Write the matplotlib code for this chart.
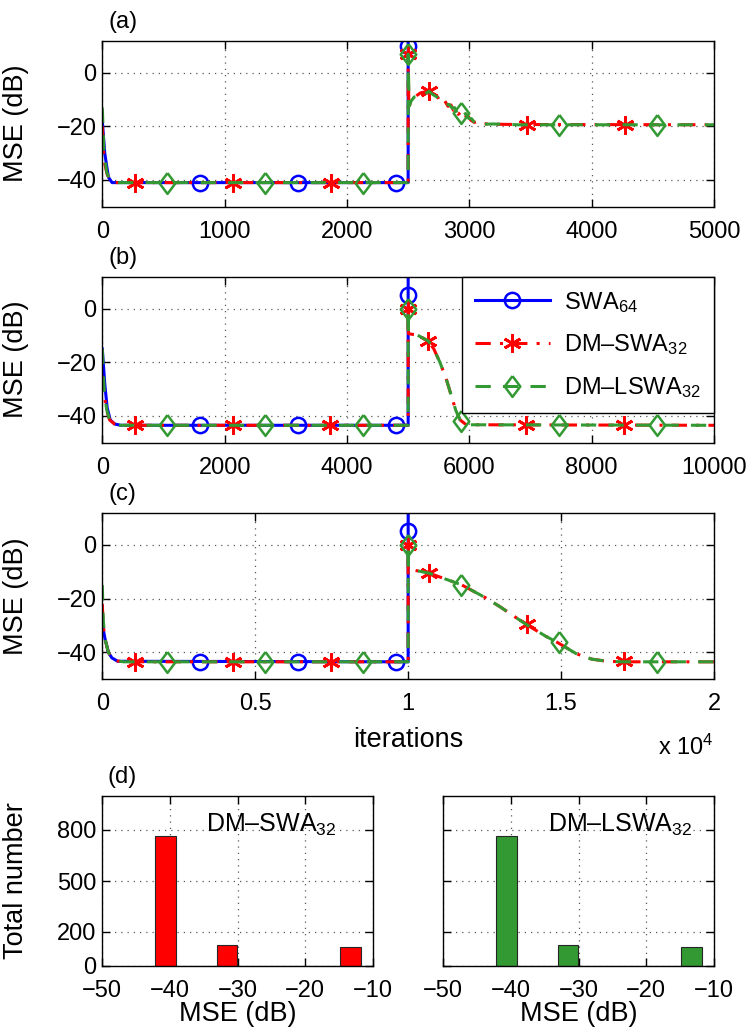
import numpy as np
import matplotlib
matplotlib.use('Agg')
import matplotlib.pyplot as plt
from matplotlib.lines import Line2D
from matplotlib.ticker import FuncFormatter

plt.rcParams['font.family'] = ['Liberation Sans', 'DejaVu Sans']
plt.rcParams['mathtext.fontset'] = 'custom'
plt.rcParams['mathtext.rm'] = 'Liberation Sans'
plt.rcParams['mathtext.it'] = 'Liberation Sans:italic'
plt.rcParams['axes.unicode_minus'] = True

# ---- panel (a): 5000 iterations ----
a_swa_x = [0, 20, 50, 80, 2500, 2500, 2502]
a_swa_y = [-18, -30, -39, -41, -41, 10, 60]
a_dm_x = [0, 15, 40, 70, 90, 2500, 2500, 2506, 2520, 2545, 2570, 2600, 2630, 2670, 2700,
          2730, 2755, 2780, 2800, 2825, 2850, 2870, 2890, 2910, 2935, 2960, 2985, 3010,
          3040, 3070, 3110, 3200, 3400, 5000]
a_dm_y = [-20, -33, -38, -40, -41, -41, 7, -13, -11, -9.5, -8.5, -7.5, -7.2, -6.8, -7.6,
          -9.5, -9, -11, -10.5, -12.5, -12, -14, -13.2, -15.5, -14.5, -16.8, -15.8, -17.6,
          -18.5, -18.2, -19, -19.2, -19.3, -19.4]
a_lswa_x = [0, 12, 35, 60, 85, 2500, 2500, 2508, 2525, 2550, 2575, 2605, 2640, 2670, 2705,
            2735, 2760, 2790, 2810, 2835, 2860, 2880, 2900, 2920, 2945, 2970, 2995, 3020,
            3045, 3080, 3120, 3200, 3400, 5000]
a_lswa_y = [-13, -28, -37, -40, -41, -41, 7, -12.5, -10.5, -9, -8.8, -7.2, -7.8, -6.9, -8.2,
            -9, -10.2, -10.5, -12, -11.8, -13.2, -13, -15, -14, -16, -15.2, -17, -17.2,
            -18.8, -18, -19.2, -19.1, -19.4, -19.4]
a_swa_mk_x = [800, 1600, 2400, 2500]
a_swa_mk_y = [-41, -41, -41, 10]
a_dm_mk_x = [270, 1070, 1870, 2500, 2670, 3470, 4270]
a_dm_mk_y = [-41, -41, -41, 7, -6.8, -19.3, -19.4]
a_lswa_mk_x = [530, 1330, 2130, 2500, 2930, 3730, 4530]
a_lswa_mk_y = [-41, -41, -41, 7, -15, -19.4, -19.4]

# ---- panel (b): 10000 iterations ----
b_swa_x = [0, 40, 80, 130, 200, 300, 5000, 5000, 5002]
b_swa_y = [-15, -28, -37, -41.5, -43, -43.5, -43.5, 5, 60]
b_dm_x = [0, 30, 70, 120, 200, 300, 5000, 5000, 5005, 5150, 5330, 5420, 5520, 5620, 5700,
          5780, 5850, 5950, 10000]
b_dm_y = [-25, -32, -38, -41.5, -43, -43.5, -43.5, 0, -9.3, -9.8, -12, -15, -20, -26, -32,
          -38, -41.5, -43.3, -43.5]
b_lswa_x = b_dm_x
b_lswa_y = [-15, -30, -37.5, -41.5, -43, -43.5, -43.5, 0, -9.3, -9.8, -12, -15, -20, -26,
            -32, -38, -41.5, -43.3, -43.5]
b_swa_mk_x = [1600, 3200, 4800, 5000]
b_swa_mk_y = [-43.5, -43.5, -43.5, 5]
b_dm_mk_x = [530, 2130, 3730, 5000, 5330, 6930, 8530]
b_dm_mk_y = [-43.5, -43.5, -43.5, 0, -12, -43.5, -43.5]
b_lswa_mk_x = [1060, 2660, 4260, 5000, 5860, 7460, 9060]
b_lswa_mk_y = [-43.5, -43.5, -43.5, 0, -42, -43.5, -43.5]

# ---- panel (c): 20000 iterations ----
c_swa_x = [0, 40, 90, 200, 310, 500, 10000, 10000, 10002]
c_swa_y = [-25, -32, -35, -40, -42, -43.3, -43.5, 5, 60]
c_dm_x = [0, 30, 90, 200, 310, 500, 700, 10000, 10000, 10010, 10700, 11750, 12500, 13000,
          13830, 14500, 14880, 15500, 16000, 16500, 17000, 20000]
c_dm_y = [-22, -30, -35, -40, -42, -43.2, -43.5, -43.5, 0, -9, -10.6, -14.9, -19.5, -23,
          -29.4, -34, -36.3, -40.5, -42.5, -43.3, -43.5, -43.5]
c_lswa_x = c_dm_x
c_lswa_y = [-15, -28, -35, -40, -42, -43.2, -43.5, -43.5, 0, -9, -10.6, -14.9, -19.5, -23,
            -29.4, -34, -36.3, -40.5, -42.5, -43.3, -43.5, -43.5]
c_swa_mk_x = [3200, 6400, 9600, 10000]
c_swa_mk_y = [-43.5, -43.5, -43.5, 5]
c_dm_mk_x = [1070, 4270, 7470, 10000, 10670, 13870, 17070]
c_dm_mk_y = [-43.5, -43.5, -43.5, 0, -10.6, -29.4, -43.3]
c_lswa_mk_x = [2130, 5330, 8530, 10000, 11730, 14930, 18130]
c_lswa_mk_y = [-43.5, -43.5, -43.5, 0, -14.9, -36.3, -43.5]

# ---- panel (d): histograms ----
hist_centers = [-40.68, -37.64, -34.60, -31.56, -28.52, -25.48, -22.44, -19.40, -16.36, -13.32]
hist_width = 3.04
counts_dm = [766, 1, 0, 122, 0, 0, 1, 0, 0, 110]
counts_lswa = [766, 1, 0, 122, 0, 1, 0, 0, 0, 110]

BLUE = (0, 0, 1)
RED = (1, 0, 0)
GREEN = (0.2, 0.6, 0.2)
ASTER = (6, 2, 0)
DIAM = [(0, 1), (0.75, 0), (0, -1), (-0.75, 0), (0, 1)]

TICK_FS = 17
LABEL_FS = 19.5

styles = {
    'swa': dict(color=BLUE, ls='-', marker='o', ms=11, mew=1.8),
    'dm': dict(color=RED, ls=(0, (5, 3, 1, 3)), marker=ASTER, ms=13, mew=2),
    'lswa': dict(color=GREEN, ls=(0, (5, 4)), marker=DIAM, ms=15, mew=1.8),
}


def style_axes(ax):
    ax.tick_params(direction='in', length=6, width=1, top=True, right=True,
                   labelsize=TICK_FS)
    ax.tick_params(axis='x', pad=10)
    ax.tick_params(axis='y', pad=4)
    ax.grid(True, ls=(0, (1, 4)), lw=0.9, color='0.35')
    ax.set_axisbelow(True)
    for s in ax.spines.values():
        s.set_linewidth(1.0)


def draw_curves(ax, series):
    for key, x, y, mx, my in series:
        st = styles[key]
        ax.plot(x, y, color=st['color'], ls=st['ls'], lw=2.2)
        ax.plot(mx, my, ls='none', marker=st['marker'], ms=st['ms'], mew=st['mew'],
                mec=st['color'], mfc='none')


fig = plt.figure(figsize=(7.52, 10.30), dpi=100)
W, H = 752.0, 1030.0


def px_axes(x0, x1, y0, y1):
    return fig.add_axes([x0 / W, 1 - y1 / H, (x1 - x0) / W, (y1 - y0) / H])


ax_a = px_axes(102.3, 714, 40.7, 206.7)
ax_b = px_axes(102.3, 714, 276.7, 442.7)
ax_c = px_axes(102.3, 714, 512.5, 679.3)
ax_d1 = px_axes(102.3, 372.7, 796, 966)
ax_d2 = px_axes(443.3, 714, 796, 966)

draw_curves(ax_a, [('swa', a_swa_x, a_swa_y, a_swa_mk_x, a_swa_mk_y),
                   ('dm', a_dm_x, a_dm_y, a_dm_mk_x, a_dm_mk_y),
                   ('lswa', a_lswa_x, a_lswa_y, a_lswa_mk_x, a_lswa_mk_y)])
draw_curves(ax_b, [('swa', b_swa_x, b_swa_y, b_swa_mk_x, b_swa_mk_y),
                   ('dm', b_dm_x, b_dm_y, b_dm_mk_x, b_dm_mk_y),
                   ('lswa', b_lswa_x, b_lswa_y, b_lswa_mk_x, b_lswa_mk_y)])
draw_curves(ax_c, [('swa', c_swa_x, c_swa_y, c_swa_mk_x, c_swa_mk_y),
                   ('dm', c_dm_x, c_dm_y, c_dm_mk_x, c_dm_mk_y),
                   ('lswa', c_lswa_x, c_lswa_y, c_lswa_mk_x, c_lswa_mk_y)])

for ax, xmax, lab in [(ax_a, 5000, '(a)'), (ax_b, 10000, '(b)'), (ax_c, 20000, '(c)')]:
    ax.set_xlim(0, xmax)
    ax.set_ylim(-50, 12)
    ax.set_yticks([-40, -20, 0])
    ax.set_ylabel('MSE (dB)', fontsize=LABEL_FS)
    ax.yaxis.set_label_coords(-0.12, 0.5)
    style_axes(ax)
    ax.text(0.01, 1.11, lab, transform=ax.transAxes, fontsize=TICK_FS,
            ha='left', va='center')

ax_a.set_xticks([0, 1000, 2000, 3000, 4000, 5000])
ax_b.set_xticks([0, 2000, 4000, 6000, 8000, 10000])
ax_c.set_xticks([0, 5000, 10000, 15000, 20000])
ax_c.xaxis.set_major_formatter(FuncFormatter(lambda v, p: '%g' % (v / 1e4)))
ax_c.set_xlabel('iterations', fontsize=LABEL_FS, va='center')
ax_c.xaxis.set_label_coords(0.5, -0.364)
ax_c.text(1.0, -0.41, 'x 10$^{\\mathregular{4}}$', transform=ax_c.transAxes,
          fontsize=TICK_FS, ha='right', va='center')

handles = [Line2D([], [], color=styles[k]['color'], ls=styles[k]['ls'], lw=2.2,
                  marker=styles[k]['marker'], ms=styles[k]['ms'], mew=styles[k]['mew'],
                  mfc='none', mec=styles[k]['color']) for k in ['swa', 'dm', 'lswa']]
labels = ['SWA$_\\mathregular{64}$', 'DM\u2013SWA$_\\mathregular{32}$',
          'DM\u2013LSWA$_\\mathregular{32}$']
leg = ax_b.legend(handles, labels, loc='upper right', bbox_to_anchor=(1, 1),
                  borderaxespad=0, fontsize=TICK_FS, handlelength=3.2,
                  handletextpad=0.6, labelspacing=0.75, borderpad=0.55,
                  fancybox=False, framealpha=1, edgecolor='black')
leg.get_frame().set_linewidth(1.0)

# histograms
for ax, counts, col, name in [(ax_d1, counts_dm, RED, 'DM\u2013SWA$_\\mathregular{32}$'),
                              (ax_d2, counts_lswa, GREEN, 'DM\u2013LSWA$_\\mathregular{32}$')]:
    ax.bar(hist_centers, counts, width=hist_width, color=col, edgecolor='0.15', lw=0.8)
    ax.set_xlim(-50, -10)
    ax.set_ylim(0, 1000)
    ax.set_xticks([-50, -40, -30, -20, -10])
    ax.set_yticks([0, 200, 500, 800])
    style_axes(ax)
    ax.set_xlabel('MSE (dB)', fontsize=LABEL_FS, va='center')
    ax.xaxis.set_label_coords(0.5, -0.28)
    ax.text(0.385, 0.79, name, transform=ax.transAxes, fontsize=TICK_FS + 1,
            ha='left', va='baseline')

ax_d1.set_ylabel('Total number', fontsize=LABEL_FS)
ax_d1.yaxis.set_label_coords(-0.271, 0.5)
ax_d2.tick_params(labelleft=False)
ax_d1.text(0.02, 1.11, '(d)', transform=ax_d1.transAxes, fontsize=TICK_FS,
           ha='left', va='center')

fig.savefig('out.png', dpi=100)
